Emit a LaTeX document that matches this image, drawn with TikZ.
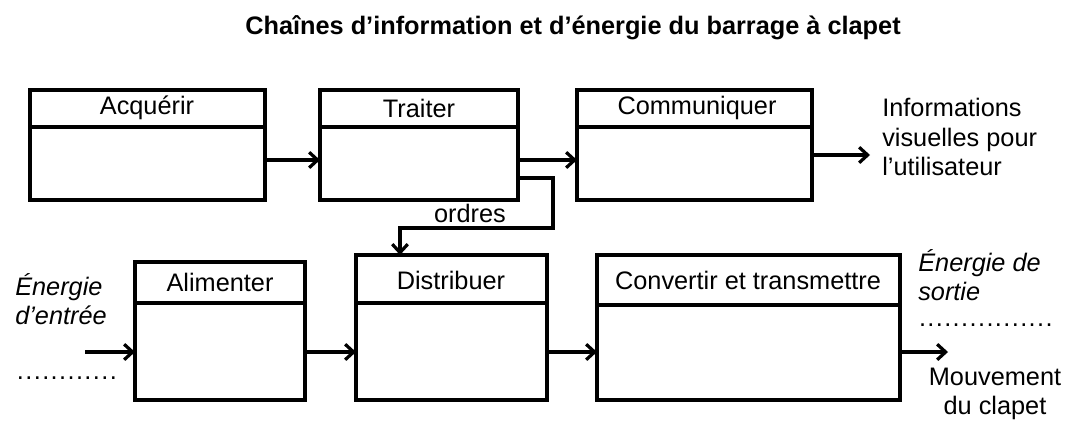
\documentclass[tikz,border=0pt]{standalone}
\usepackage{fontspec}
\setmainfont{Liberation Sans}
\usetikzlibrary{arrows.meta}
\begin{document}
\begin{tikzpicture}[x=0.025cm,y=-0.025cm,
  box/.style={draw,line width=2.3pt},
  arr/.style={line width=2.3pt,-{Straight Barb[length=6pt,width=11pt]}},
  lbl/.style={font=\fontsize{18}{21}\selectfont}]
\useasboundingbox (0,0) rectangle (1075,440);
\node[font=\bfseries\fontsize{18}{21}\selectfont] (title) at (573,28) {Chaînes d’information et d’énergie du barrage à clapet};
% boxes
\draw[box] (30,90) rectangle (265,200); \draw[box] (30,127)--(265,127);
\node[lbl] (acq) at (147,108) {Acquérir};
\draw[box] (320,90) rectangle (518,200); \draw[box] (320,127)--(518,127);
\node[lbl] (tra) at (419,108) {Traiter};
\draw[box] (577,90) rectangle (812,200); \draw[box] (577,127)--(812,127);
\node[lbl] (com) at (697,108) {Communiquer};
\draw[box] (135,262) rectangle (305,400); \draw[box] (135,303)--(305,303);
\node[lbl] (ali) at (220,282) {Alimenter};
\draw[box] (356,255) rectangle (547,400); \draw[box] (356,303)--(547,303);
\node[lbl] (dis) at (451,280) {Distribuer};
\draw[box] (597,255) rectangle (900,400); \draw[box] (597,305)--(900,305);
\node[lbl] (con) at (748,280) {Convertir et transmettre};
% coordinates
\coordinate (a1) at (265,160); \coordinate (t1) at (320,160);
\coordinate (t2) at (518,160); \coordinate (c1) at (577,160);
\coordinate (c2) at (812,155); \coordinate (c3) at (870,155);
\coordinate (t3) at (518,178); \coordinate (d0) at (400,255);
\coordinate (e0) at (85,352); \coordinate (e1) at (135,352);
\coordinate (e2) at (305,352); \coordinate (e3) at (356,352);
\coordinate (e4) at (547,352); \coordinate (e5) at (597,352);
\coordinate (e6) at (900,352); \coordinate (e7) at (948,352);
\draw[arr] (a1)--(t1);
\draw[arr] (t2)--(c1);
\draw[arr] (c2)--(c3);
\draw[arr] (t3)--(553,178)--(553,228)--(400,228)--(d0);
\node[lbl] (ord) at (470,213) {ordres};
\draw[arr] (e0)--(e1);
\draw[arr] (e2)--(e3);
\draw[arr] (e4)--(e5);
\draw[arr] (e6)--(e7);
% labels
\node[lbl,anchor=north west,align=left,inner sep=0pt] (info) at (882,98) {Informations\\visuelles pour\\l’utilisateur};
\node[lbl,anchor=north west,align=left,inner sep=0pt,font=\itshape\fontsize{18}{21}\selectfont] (ein) at (15,273) {Énergie\\d’entrée};
\node[lbl,anchor=west,inner sep=0pt] (dots1) at (16,378) {\hbox to 73pt{\leaders\hbox to 6pt{\hss.\hss}\hfill}};
\node[lbl,anchor=north west,align=left,inner sep=0pt,font=\itshape\fontsize{18}{21}\selectfont] (eout) at (918,249) {Énergie de\\sortie};
\node[lbl,anchor=west,inner sep=0pt] (dots2) at (918,325) {\hbox to 100pt{\leaders\hbox to 6pt{\hss.\hss}\hfill}};
\node[lbl,align=center,inner sep=0pt] (mvt) at (995,394) {Mouvement\\du clapet};
\end{tikzpicture}
\end{document}
